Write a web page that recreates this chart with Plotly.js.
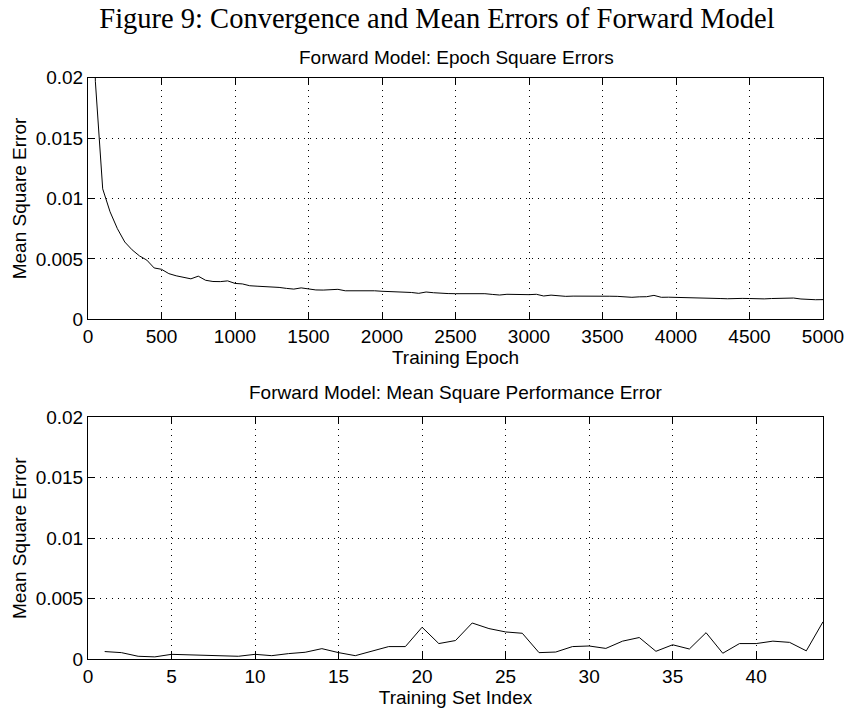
<!DOCTYPE html>
<html>
<head>
<meta charset="utf-8">
<script src="https://cdn.plot.ly/plotly-3.0.1.min.js"></script>
<style>
html,body{margin:0;padding:0;background:#fff;}
#chart{width:847px;height:708px;}
</style>
</head>
<body>
<div id="chart"></div>
<script>
// ---- Data ----
const figureTitle = "Figure 9: Convergence and Mean Errors of Forward Model";
const topTitle = "Forward Model: Epoch Square Errors";
const bottomTitle = "Forward Model: Mean Square Performance Error";

const epochs = [0,50,100,150,200,250,300,350,400,450,500,550,600,650,700,750,800,850,900,950,
1000,1050,1100,1150,1200,1250,1300,1350,1400,1450,1500,1550,1600,1650,1700,1750,1800,1850,1900,1950,
2000,2050,2100,2150,2200,2250,2300,2350,2400,2450,2500,2550,2600,2650,2700,2750,2800,2850,2900,2950,
3000,3050,3100,3150,3200,3250,3300,3350,3400,3450,3500,3550,3600,3650,3700,3750,3800,3850,3900,3950,
4000,4050,4100,4150,4200,4250,4300,4350,4400,4450,4500,4550,4600,4650,4700,4750,4800,4850,4900,4950,5000];

const epochErrors = [0.06,0.0197,0.0108,0.0089,0.0075,0.0064,0.00575,0.00525,0.0049,0.00425,
0.00414,0.00378,0.0036,0.0035,0.00335,0.00357,0.00323,0.00313,0.00312,0.00318,
0.00297,0.00293,0.00278,0.00274,0.00272,0.0027,0.00264,0.00256,0.0025,0.0026,
0.0025,0.00243,0.00242,0.00243,0.00248,0.00236,0.00236,0.0024,0.0024,0.00236,
0.00232,0.0023,0.00228,0.00224,0.00222,0.00215,0.00226,0.0022,0.00214,0.00213,
0.00212,0.00212,0.00213,0.00216,0.00212,0.00206,0.00201,0.00207,0.00205,0.00203,
0.00204,0.00207,0.00193,0.002,0.00192,0.0019,0.00192,0.00193,0.00191,0.0019,
0.0019,0.00191,0.0019,0.00185,0.00182,0.00186,0.00187,0.00198,0.00182,0.00183,
0.00182,0.0018,0.00179,0.00179,0.00178,0.00179,0.00172,0.0017,0.00174,0.00173,
0.00172,0.00168,0.00169,0.00172,0.00173,0.00172,0.00176,0.00168,0.00162,0.00162,0.00163];

const setIndex = [1,2,3,4,5,6,7,8,9,10,11,12,13,14,15,16,17,18,19,20,21,22,
23,24,25,26,27,28,29,30,31,32,33,34,35,36,37,38,39,40,41,42,43,44];

const setErrors = [0.00064,0.00055,0.00025,0.0002,0.00041,0.00037,0.00033,0.00029,0.00025,0.00041,
0.0003,0.00047,0.00058,0.00088,0.00055,0.0003,0.00069,0.00105,0.00105,0.00265,
0.0013,0.00155,0.003,0.00254,0.00226,0.00215,0.00055,0.0006,0.00105,0.0011,
0.0009,0.0015,0.0018,0.00066,0.0012,0.00085,0.0022,0.0005,0.0013,0.0013,
0.0015,0.0014,0.0007,0.0031];

const topXTicks = [0,500,1000,1500,2000,2500,3000,3500,4000,4500,5000];
const bottomXTicks = [0,5,10,15,20,25,30,35,40];
const yTicks = [0,0.005,0.01,0.015,0.02];

// ---- Chart ----
const W = 847, H = 708;
const sans = "Liberation Sans, Arial, Helvetica, sans-serif";
const tickFont = {family: sans, size: 19, color: "#000"};

function axisBase(extra){
  return Object.assign({
    showline: true, linecolor: "#000", linewidth: 1,
    mirror: "allticks", ticks: "inside", ticklen: 7, tickcolor: "#000", tickwidth: 1,
    showgrid: true, gridcolor: "#000", gridwidth: 1, griddash: "1px,5px",
    zeroline: false, tickfont: tickFont, fixedrange: true
  }, extra);
}

const traces = [
  {x: epochs, y: epochErrors, xaxis: "x", yaxis: "y", type: "scatter", mode: "lines",
   line: {color: "#000", width: 1}, hoverinfo: "skip", cliponaxis: true},
  {x: setIndex, y: setErrors, xaxis: "x2", yaxis: "y2", type: "scatter", mode: "lines",
   line: {color: "#000", width: 1}, hoverinfo: "skip"}
];

const xd = [88/W, 823/W];
const layout = {
  width: W, height: H,
  margin: {l: 0, r: 0, t: 0, b: 0},
  paper_bgcolor: "#fff", plot_bgcolor: "#fff",
  showlegend: false,
  title: {text: figureTitle, x: 437/W, xanchor: "center", xref: "container",
          y: 1 - 18/H, yanchor: "middle", yref: "container",
          font: {family: "Liberation Serif, Times New Roman, serif", size: 28.5, color: "#000"}},
  xaxis: axisBase({domain: xd, anchor: "y", range: [0, 5000], tickvals: topXTicks,
          title: {text: "Training Epoch", font: {family: sans, size: 19, color: "#000"}, standoff: 0}}),
  yaxis: axisBase({domain: [(H-319.3)/H, (H-77.7)/H], anchor: "x", range: [0, 0.02], tickvals: yTicks,
          title: {text: "Mean Square Error", font: {family: sans, size: 19, color: "#000"}, standoff: 4}}),
  xaxis2: axisBase({domain: xd, anchor: "y2", range: [0, 44], tickvals: bottomXTicks,
          title: {text: "Training Set Index", font: {family: sans, size: 19, color: "#000"}, standoff: 0}}),
  yaxis2: axisBase({domain: [(H-659.3)/H, (H-417.3)/H], anchor: "x2", range: [0, 0.02], tickvals: yTicks,
          title: {text: "Mean Square Error", font: {family: sans, size: 19, color: "#000"}, standoff: 4}}),
  annotations: [
    {text: topTitle, xref: "paper", yref: "paper", x: 456/W, y: 1 - 58/H, xanchor: "center", yanchor: "middle",
     showarrow: false, font: {family: sans, size: 19, color: "#000"}},
    {text: bottomTitle, xref: "paper", yref: "paper", x: 456/W, y: 1 - 392/H, xanchor: "center", yanchor: "middle",
     showarrow: false, font: {family: sans, size: 19, color: "#000"}}
  ]
};

Plotly.newPlot("chart", traces, layout, {displayModeBar: false, staticPlot: true});
</script>
</body>
</html>
